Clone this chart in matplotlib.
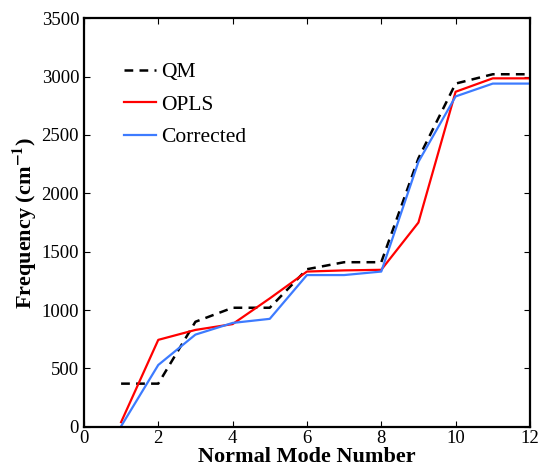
import matplotlib
matplotlib.use("Agg")
import matplotlib.pyplot as plt

plt.rcParams['font.family'] = ['Liberation Serif', 'DejaVu Serif']
plt.rcParams['mathtext.fontset'] = 'stix'

modes = [1, 2, 3, 4, 5, 6, 7, 8, 9, 10, 11, 12]
qm = [370, 370, 900, 1020, 1020, 1350, 1410, 1410, 2300, 2940, 3020, 3020]
opls = [40, 745, 830, 880, 1100, 1330, 1340, 1345, 1750, 2870, 2985, 2985]
corrected = [5, 530, 790, 890, 925, 1300, 1300, 1330, 2270, 2830, 2940, 2940]

fig = plt.figure(figsize=(5.38, 4.67), dpi=100)
ax = fig.add_axes([0.156, 0.086, 0.829, 0.875])

ax.plot(modes, qm, '--', color='black', lw=1.8, dashes=(3.5, 2.5), label='QM')
ax.plot(modes, opls, '-', color='#ff0000', lw=1.6, label='OPLS')
ax.plot(modes, corrected, '-', color='#3d7bff', lw=1.6, label='Corrected')

ax.set_xlim(0, 12)
ax.set_ylim(0, 3500)
ax.set_xticks(range(0, 13, 2))
ax.set_yticks(range(0, 3501, 500))
ax.tick_params(direction='in', top=True, right=True, labelsize=13.5, length=4,
               width=0.8)
ax.tick_params(axis='x', pad=2.5)
ax.tick_params(axis='y', pad=3.5)
for s in ax.spines.values():
    s.set_linewidth(1.6)

ax.set_xlabel('Normal Mode Number', fontsize=16, fontweight='bold', labelpad=0)
ax.set_ylabel('Frequency (cm$^{\\mathbf{-1}}$)', fontsize=16, fontweight='bold', labelpad=2)

ax.legend(loc='upper left', bbox_to_anchor=(0.046, 0.94), frameon=False, fontsize=15.5,
          handlelength=1.5, handletextpad=0.25, labelspacing=0.58)

fig.savefig('out.png', dpi=100)
